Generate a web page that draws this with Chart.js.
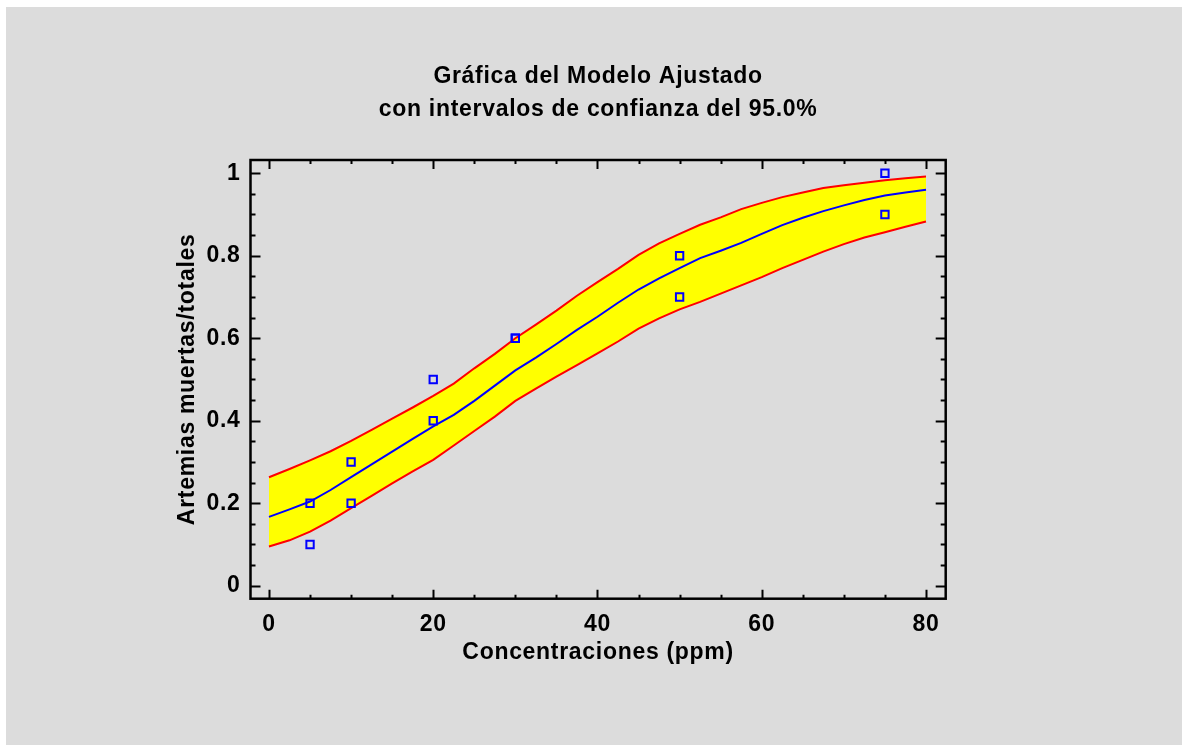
<!DOCTYPE html>
<html>
<head>
<meta charset="utf-8">
<title>Gráfica del Modelo Ajustado</title>
<script src="https://cdn.jsdelivr.net/npm/chart.js@4.4.1/dist/chart.umd.min.js"></script>
<style>
    body { margin: 0; background: #ffffff; }
    #wrap {
        position: absolute;
        left: 6px;
        top: 7px;
        width: 1176px;
        height: 738px;
        background: #dcdcdc;
    }
    canvas { display: block; }
</style>
</head>
<body>
<div id="wrap"><canvas id="fitChart" width="1176" height="738"></canvas></div>
<script>
// Concentration grid for the fitted curve and its limits (ppm)
const conc = [0, 2.5, 5, 7.5, 10, 12.5, 15, 17.5, 20, 22.5, 25, 27.5, 30, 32.5, 35, 37.5,
    40, 42.5, 45, 47.5, 50, 52.5, 55, 57.5, 60, 62.5, 65, 67.5, 70, 72.5, 75, 77.5, 80];

// Fitted proportion
const fitted = [0.167, 0.185, 0.204, 0.232, 0.263, 0.294, 0.325, 0.356, 0.386, 0.414, 0.448, 0.485,
    0.522, 0.553, 0.586, 0.620, 0.652, 0.686, 0.718, 0.745, 0.770, 0.794, 0.812, 0.831,
    0.853, 0.874, 0.892, 0.908, 0.922, 0.935, 0.946, 0.953, 0.960];

// 95% confidence limits
const upperLimit = [0.263, 0.283, 0.304, 0.326, 0.351, 0.378, 0.405, 0.432, 0.460, 0.490, 0.527, 0.562,
    0.600, 0.633, 0.667, 0.703, 0.736, 0.768, 0.802, 0.830, 0.853, 0.875, 0.893, 0.913,
    0.928, 0.942, 0.953, 0.964, 0.971, 0.977, 0.983, 0.988, 0.992];
const lowerLimit = [0.095, 0.110, 0.131, 0.158, 0.188, 0.218, 0.248, 0.277, 0.305, 0.340, 0.375, 0.410,
    0.448, 0.478, 0.507, 0.535, 0.563, 0.592, 0.623, 0.648, 0.670, 0.688, 0.708, 0.728,
    0.748, 0.770, 0.790, 0.810, 0.828, 0.844, 0.857, 0.870, 0.883];

// Observed proportions
const obsConc = [5, 5, 10, 10, 20, 20, 30, 30, 50, 50, 75, 75];
const obsProp = [0.2, 0.1, 0.3, 0.2, 0.5, 0.4, 0.6, 0.6, 0.8, 0.7, 1.0, 0.9];

// Axis ticks
const xTicks = [0, 20, 40, 60, 80];
const yTicks = [0, 0.2, 0.4, 0.6, 0.8, 1];
const xMinorStep = 5;
const yMinorStep = 0.05;

const toPoints = (xs, ys) => xs.map((x, i) => ({ x: x, y: ys[i] }));

const FONT = "'Liberation Sans', Arial, sans-serif";

// Slightly wider letter spacing, like the original rendering
const spacingPlugin = {
    id: 'letterSpacing',
    beforeDraw(chart) {
        chart.ctx.letterSpacing = '0.7px';
    }
};

// Frame with inward major/minor ticks on all four sides
const framePlugin = {
    id: 'frameTicks',
    afterDatasetsDraw(chart) {
        const ctx = chart.ctx;
        const area = chart.chartArea;
        const xs = chart.scales.x;
        const ys = chart.scales.y;
        ctx.save();
        ctx.strokeStyle = '#000000';

        ctx.lineWidth = 2;
        ctx.beginPath();
        for (let v = 0; v <= 80 + 1e-9; v += xMinorStep) {
            const px = Math.round(xs.getPixelForValue(v)) + 0.5;
            const len = (Math.abs(v % 20) < 1e-9) ? 9 : 4;
            ctx.moveTo(px, area.top);
            ctx.lineTo(px, area.top + len);
            ctx.moveTo(px, area.bottom);
            ctx.lineTo(px, area.bottom - len);
        }
        for (let i = 0; i <= 20; i++) {
            const v = i * yMinorStep;
            const py = Math.round(ys.getPixelForValue(v)) + 0.5;
            const len = (i % 4 === 0) ? 10 : 5;
            ctx.moveTo(area.left, py);
            ctx.lineTo(area.left + len, py);
            ctx.moveTo(area.right, py);
            ctx.lineTo(area.right - len, py);
        }
        ctx.stroke();

        ctx.lineWidth = 2.5;
        ctx.strokeRect(area.left, area.top, area.right - area.left, area.bottom - area.top);
        ctx.restore();
    }
};

const ctx = document.getElementById('fitChart').getContext('2d');
new Chart(ctx, {
    type: 'line',
    data: {
        datasets: [{
            label: 'Observado',
            data: toPoints(obsConc, obsProp),
            order: 0,
            showLine: false,
            pointStyle: 'rect',
            pointRadius: 5.2,
            pointBorderWidth: 2,
            pointBorderColor: '#0000ff',
            pointBackgroundColor: 'rgba(0,0,0,0)',
            fill: false
        }, {
            label: 'Modelo ajustado',
            data: toPoints(conc, fitted),
            order: 1,
            borderColor: '#0000ff',
            borderWidth: 2,
            pointRadius: 0,
            tension: 0,
            fill: false
        }, {
            label: 'Límite superior',
            data: toPoints(conc, upperLimit),
            order: 3,
            borderColor: '#ff0000',
            borderWidth: 2,
            backgroundColor: '#ffff00',
            pointRadius: 0,
            tension: 0,
            fill: '+1'
        }, {
            label: 'Límite inferior',
            data: toPoints(conc, lowerLimit),
            order: 2,
            borderColor: '#ff0000',
            borderWidth: 2,
            pointRadius: 0,
            tension: 0,
            fill: false
        }]
    },
    options: {
        responsive: false,
        devicePixelRatio: 1,
        animation: false,
        layout: {
            padding: { left: 0, right: 236.3, top: 0, bottom: 46.3 }
        },
        scales: {
            x: {
                type: 'linear',
                min: -2.25,
                max: 82.4,
                afterBuildTicks: (s) => { s.ticks = xTicks.map(v => ({ value: v })); },
                afterFit: (s) => { s.height = 100; },
                grid: { display: false, drawTicks: false },
                border: { display: false },
                ticks: {
                    color: '#000000',
                    padding: 12,
                    maxRotation: 0,
                    font: { family: FONT, size: 23, weight: 'bold' }
                },
                title: {
                    display: true,
                    text: 'Concentraciones (ppm)',
                    color: '#000000',
                    padding: { top: 0, bottom: 32.5 },
                    font: { family: FONT, size: 23, weight: 'bold' }
                }
            },
            y: {
                type: 'linear',
                min: -0.0315,
                max: 1.032,
                afterBuildTicks: (s) => { s.ticks = yTicks.map(v => ({ value: v })); },
                afterFit: (s) => { s.width = 244.5; },
                grid: { display: false, drawTicks: false },
                border: { display: false },
                ticks: {
                    color: '#000000',
                    padding: 10,
                    callback: (v) => String(+Number(v).toFixed(2)),
                    font: { family: FONT, size: 23, weight: 'bold' }
                },
                title: {
                    display: true,
                    text: 'Artemias muertas/totales',
                    color: '#000000',
                    padding: { top: 168, bottom: 0 },
                    font: { family: FONT, size: 23, weight: 'bold' }
                }
            }
        },
        plugins: {
            legend: { display: false },
            tooltip: { enabled: false },
            title: {
                display: true,
                fullSize: false,
                text: ['Gráfica del Modelo Ajustado', 'con intervalos de confianza del 95.0%'],
                color: '#000000',
                padding: { top: 53.2, bottom: 33.8 },
                font: { family: FONT, size: 23, weight: 'bold', lineHeight: '33px' }
            }
        }
    },
    plugins: [spacingPlugin, framePlugin]
});
</script>
</body>
</html>
